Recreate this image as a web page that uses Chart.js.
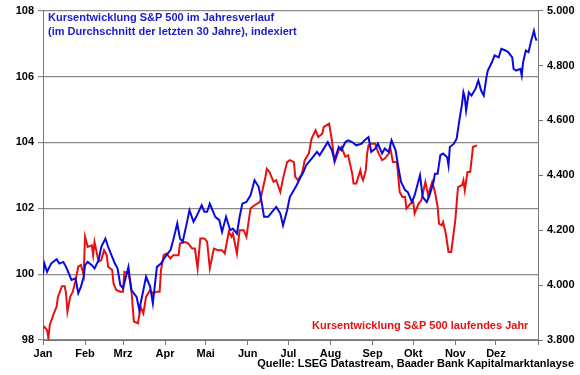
<!DOCTYPE html>
<html lang="de">
<head>
<meta charset="utf-8">
<title>Kursentwicklung S&amp;P 500</title>
<script src="https://cdn.jsdelivr.net/npm/chart.js@4.4.1/dist/chart.umd.min.js"></script>
<style>
  html, body { margin: 0; padding: 0; background: #fff; }
  #wrap { width: 580px; height: 375px; }
</style>
</head>
<body>
<div id="wrap"><canvas id="chart" width="580" height="375"></canvas></div>
<script>
// Monatsbeschriftung (x-Achse in Kalendertagen)
const monate = ['Jan', 'Feb', 'Mrz', 'Apr', 'Mai', 'Jun', 'Jul', 'Aug', 'Sep', 'Okt', 'Nov', 'Dez'];
const monatsStart = [0, 31, 59, 90, 120, 151, 181, 212, 243, 273, 304, 334];

// Durchschnitt der letzten 30 Jahre, indexiert (linke Achse)
const tageAvg = [0,1,3,6,10,12,15,17,19,21,24,26,28,30,31,33,36,38,41,43,46,48,51,53,55,57,59,63,65,69,71,74,76,79,81,84,87,90,94,96,99,101,103,106,108,111,113,117,119,121,123,127,130,132,135,138,140,143,145,147,150,153,156,159,161,163,166,170,172,175,177,180,182,185,187,190,192,194,197,199,202,204,207,210,213,215,218,220,223,225,228,231,235,237,240,242,245,247,250,252,255,257,260,262,264,267,269,272,274,278,280,283,285,288,289,291,293,295,298,299,300,303,305,307,309,310,311,312,314,316,319,321,323,325,327,328,331,333,336,338,341,343,346,347,349,352,353,354,356,358,360,362,363,364];
const werteAvg = [100.0,100.32,100.07,100.32,100.45,100.32,100.37,100.22,100.02,99.82,99.87,99.42,99.62,99.92,100.27,100.37,100.27,100.17,100.42,100.83,101.08,100.83,100.52,100.32,100.17,99.67,99.57,100.22,99.52,99.31,98.91,99.52,99.92,99.62,99.11,100.22,100.32,100.52,100.73,101.03,101.54,101.08,100.98,101.54,101.94,101.59,101.74,102.09,101.89,101.89,102.14,101.74,101.64,101.28,101.74,101.33,101.38,101.23,101.74,102.14,102.19,102.39,102.85,102.65,102.24,101.74,101.74,101.94,102.04,101.84,101.48,101.94,102.34,102.55,102.70,102.95,103.10,103.30,103.45,103.55,103.71,103.61,103.81,104.01,103.76,103.45,103.86,103.76,104.01,104.06,104.01,103.91,103.96,104.06,104.16,103.71,103.81,103.96,103.66,103.81,103.71,104.06,103.76,103.25,102.80,102.55,102.49,102.19,102.39,103.0,102.34,102.19,102.39,102.80,103.05,103.05,103.61,103.66,103.55,103.30,103.86,103.96,104.11,104.67,105.17,105.52,105.37,104.97,105.52,105.42,105.63,105.88,105.58,105.42,105.98,106.18,106.43,106.64,106.58,106.84,106.79,106.74,106.58,106.23,106.18,106.23,106.03,106.43,106.79,106.74,107.09,107.39,107.19,107.09];

// Laufendes Jahr, Indexpunkte (rechte Achse)
const tageLfd = [0,1,3,4,5,8,10,11,14,16,17,18,20,22,24,26,28,30,31,33,36,37,38,41,43,45,47,48,51,52,54,57,59,60,63,65,67,70,72,74,76,79,81,84,86,87,89,91,94,96,100,101,105,107,110,112,114,116,119,121,123,126,129,132,134,137,139,140,143,145,148,150,153,156,160,161,164,165,167,170,172,175,177,180,182,185,186,188,191,193,196,198,201,203,206,207,209,211,213,215,218,220,223,225,228,229,231,234,235,236,238,239,240,242,245,247,250,252,255,256,258,261,263,265,267,268,271,273,274,277,279,282,284,287,289,291,292,294,295,297,299,301,304,306,309,310,311,313,315,316,317,320];
const werteLfd = [3843,3848,3836,3806,3855,3897,3921,3957,3996,3996,3970,3903,3957,3976,4018,4067,4073,4036,4176,4139,4145,4109,4157,4085,4091,4127,4109,4067,4055,4006,3982,3976,3976,4048,4043,3994,3867,3861,3921,3897,3957,3982,3970,3976,3976,4055,4109,4115,4097,4109,4109,4152,4157,4152,4133,4133,4061,4170,4170,4158,4061,4133,4127,4127,4115,4194,4176,4188,4115,4200,4200,4176,4279,4291,4303,4327,4394,4424,4412,4376,4382,4339,4388,4448,4455,4448,4394,4382,4406,4455,4479,4533,4564,4539,4552,4576,4582,4588,4527,4448,4491,4503,4467,4473,4406,4370,4370,4418,4394,4382,4418,4479,4509,4515,4515,4485,4455,4461,4479,4503,4448,4448,4339,4321,4321,4279,4297,4303,4261,4297,4309,4376,4327,4376,4339,4285,4224,4218,4230,4188,4121,4121,4236,4357,4364,4382,4345,4412,4412,4455,4503,4509];

const blau = '#0a0ae0';
const rot = '#e81010';
const schrift = 'Arial, "Liberation Sans", sans-serif';
const tickFont = { family: schrift, size: 11, weight: 'bold' };

// Texte im Diagramm
const textPlugin = {
  id: 'texte',
  afterDraw(chart) {
    const ctx = chart.ctx;
    ctx.save();
    ctx.font = 'bold 11px ' + schrift;
    ctx.textBaseline = 'middle';
    ctx.textAlign = 'left';
    ctx.fillStyle = '#1a1ad0';
    ctx.fillText('Kursentwicklung S&P 500 im Jahresverlauf', 48, 18);
    ctx.fillText('(im Durchschnitt der letzten 30 Jahre), indexiert', 48, 32);
    ctx.fillStyle = rot;
    ctx.fillText('Kursentwicklung S&P 500 laufendes Jahr', 312, 326);
    ctx.fillStyle = '#000';
    ctx.textAlign = 'right';
    ctx.fillText('Quelle: LSEG Datastream, Baader Bank Kapitalmarktanlayse', 574, 364);
    ctx.restore();
  }
};

const ctx = document.getElementById('chart').getContext('2d');
new Chart(ctx, {
  type: 'line',
  data: {
    datasets: [
      {
        label: 'Durchschnitt 30 Jahre',
        data: tageAvg.map((t, i) => ({ x: t, y: werteAvg[i] })),
        borderColor: blau,
        borderWidth: 2,
        pointRadius: 0,
        tension: 0,
        yAxisID: 'y'
      },
      {
        label: 'Laufendes Jahr',
        data: tageLfd.map((t, i) => ({ x: t, y: werteLfd[i] })),
        borderColor: rot,
        borderWidth: 2,
        pointRadius: 0,
        tension: 0,
        yAxisID: 'y1'
      }
    ]
  },
  options: {
    responsive: false,
    animation: false,
    layout: { padding: { top: 10, left: 0, right: 0, bottom: 0 } },
    plugins: { legend: { display: false }, tooltip: { enabled: false } },
    scales: {
      x: {
        type: 'linear',
        min: 0,
        max: 365,
        afterBuildTicks(scale) {
          scale.ticks = monatsStart.map(v => ({ value: v })).concat([{ value: 365 }]);
        },
        afterFit(scale) { scale.height = 35; },
        ticks: {
          autoSkip: false,
          maxRotation: 0,
          padding: 2,
          color: '#000',
          font: tickFont,
          callback: (v) => {
            const i = monatsStart.indexOf(v);
            return i >= 0 ? monate[i] : '';
          }
        },
        grid: { drawOnChartArea: false, tickLength: 5, color: '#777' },
        border: { color: '#777', width: 1 }
      },
      y: {
        position: 'left',
        min: 98,
        max: 108,
        afterFit(scale) { scale.width = 43; },
        ticks: { stepSize: 2, padding: 4, color: '#000', font: tickFont },
        grid: { color: '#8a8a8a', lineWidth: 1.2, tickLength: 5 },
        border: { color: '#777', width: 1 }
      },
      y1: {
        position: 'right',
        min: 3800,
        max: 5000,
        afterFit(scale) { scale.width = 42; },
        ticks: {
          stepSize: 200,
          padding: 4,
          color: '#000',
          font: tickFont,
          callback: (v) => v.toLocaleString('de-DE')
        },
        grid: { drawOnChartArea: false, tickLength: 5, color: '#777' },
        border: { color: '#777', width: 1 }
      }
    }
  },
  plugins: [textPlugin]
});
</script>
</body>
</html>
